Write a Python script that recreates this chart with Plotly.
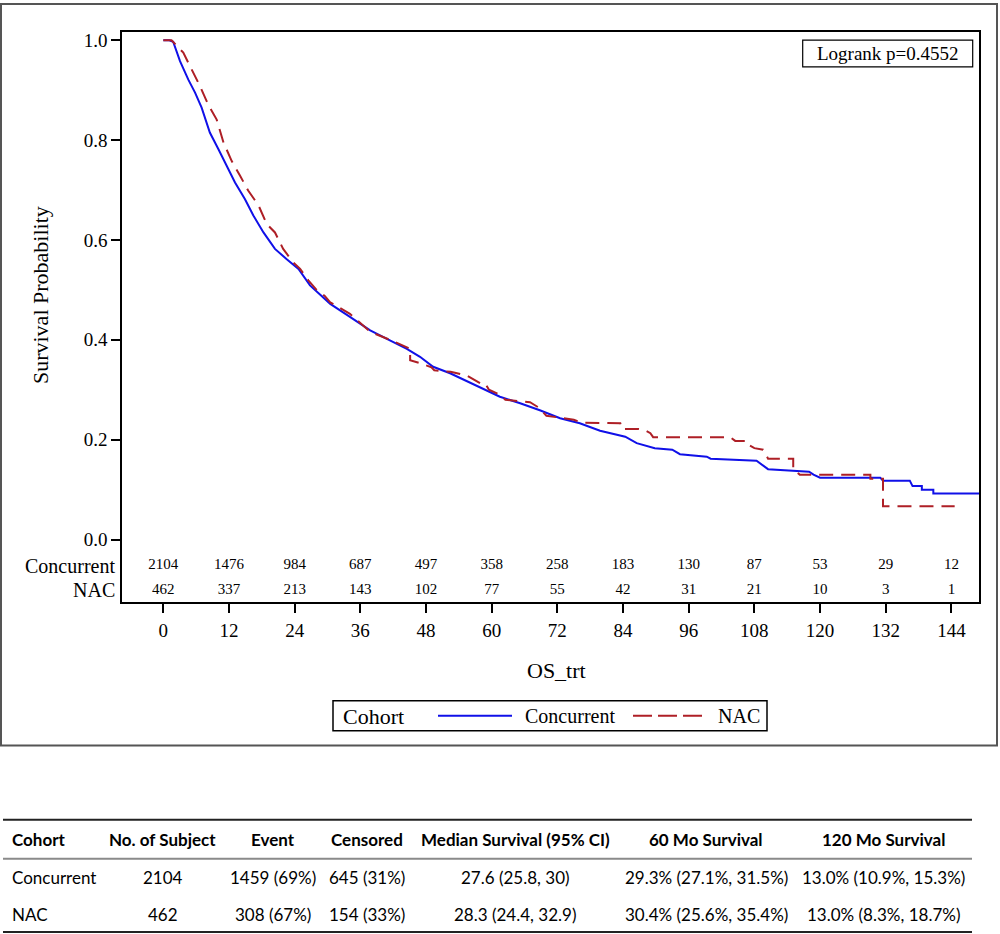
import plotly.graph_objects as go

# ---------------- data ----------------
conc_time = [0, 1.1, 1.8, 3.05, 4.57, 5.8, 7.0, 8.5, 10.05, 11.6, 13.1, 14.9, 16.45, 18.3, 20.4,
             22.5, 24.7, 26.8, 30.5, 34.1, 37.8, 41.4, 44.5, 46.9, 49.3, 52.4, 55.1, 57.9, 61.5,
             65.2, 68.8, 72.5, 76.1, 79.8, 84.4, 86.5, 89.8, 93.0, 94.4, 99.3, 100.0, 108.4,
             110.5, 118.0, 118.8, 120.0, 131.0, 131.5, 136.4, 136.9, 138.6, 138.6, 140.7, 140.7, 149.1]
conc_surv = [1.0, 1.0, 0.997, 0.958, 0.921, 0.895, 0.865, 0.815, 0.782, 0.749, 0.715, 0.682, 0.649,
             0.615, 0.582, 0.562, 0.542, 0.509, 0.472, 0.446, 0.419, 0.399, 0.382, 0.366, 0.346,
             0.333, 0.319, 0.303, 0.286, 0.273, 0.259, 0.243, 0.233, 0.218, 0.206, 0.193, 0.183,
             0.180, 0.171, 0.166, 0.162, 0.158, 0.141, 0.136, 0.130, 0.124, 0.124, 0.118, 0.118,
             0.107, 0.107, 0.0998, 0.0998, 0.092, 0.092]

nac_time = [0, 1.5, 3.65, 5.2, 6.7, 8.2, 9.75, 11.0, 12.5, 14.0, 15.5, 17.4, 18.9, 20.4, 21.9, 23.75,
            25.0, 26.5, 28.0, 29.5, 30.5, 34.1, 37.8, 41.4, 45.1, 45.1, 47.0, 49.0, 49.5, 52.5, 55.5,
            57.9, 58.8, 59.5, 61.5, 62.5, 64.5, 67.0, 68.5, 70.0, 75.0, 76.5, 83.5, 83.8, 86.8, 88.0,
            89.0, 89.5, 103.6, 104.5, 106.6, 106.9, 108.0, 109.6, 110.0, 110.5, 115.1, 115.1, 116.3,
            129.2, 129.2, 131.5, 131.5, 144.6]
nac_surv = [1.0, 1.0, 0.975, 0.941, 0.908, 0.871, 0.841, 0.795, 0.758, 0.729, 0.699, 0.669, 0.632,
            0.615, 0.582, 0.555, 0.542, 0.519, 0.500, 0.488, 0.475, 0.452, 0.416, 0.400, 0.382, 0.359,
            0.353, 0.345, 0.339, 0.336, 0.328, 0.313, 0.313, 0.300, 0.290, 0.280, 0.278, 0.275, 0.265,
            0.248, 0.240, 0.234, 0.233, 0.2215, 0.2215, 0.219, 0.213, 0.205, 0.205, 0.1976, 0.1976,
            0.190, 0.183, 0.180, 0.173, 0.162, 0.162, 0.140, 0.130, 0.130, 0.122, 0.122, 0.0665, 0.0665]

risk_times = [0, 12, 24, 36, 48, 60, 72, 84, 96, 108, 120, 132, 144]
conc_at_risk = [2104, 1476, 984, 687, 497, 358, 258, 183, 130, 87, 53, 29, 12]
nac_at_risk = [462, 337, 213, 143, 102, 77, 55, 42, 31, 21, 10, 3, 1]

y_ticks = [0.0, 0.2, 0.4, 0.6, 0.8, 1.0]
logrank_text = "Logrank p=0.4552"

table_header = ["Cohort", "No. of Subject", "Event", "Censored", "Median Survival (95% CI)",
                "60 Mo Survival", "120 Mo Survival"]
table_row_conc = ["Concurrent", "2104", "1459 (69%)", "645 (31%)", "27.6 (25.8, 30)",
                  "29.3% (27.1%, 31.5%)", "13.0% (10.9%, 15.3%)"]
table_row_nac = ["NAC", "462", "308 (67%)", "154 (33%)", "28.3 (24.4, 32.9)",
                 "30.4% (25.6%, 35.4%)", "13.0% (8.3%, 18.7%)"]

# ---------------- layout helpers ----------------
W, H = 1000, 934
SERIF = "Liberation Serif, Times New Roman, serif"
SANS = "Lato, Noto Sans, sans-serif"
BLUE = "#1010E8"
RED = "#AE1F26"


def px(x):
    return x / W


def py(y):
    return 1 - y / H


fig = go.Figure()

fig.add_trace(go.Scatter(x=conc_time, y=conc_surv, mode="lines", name="Concurrent",
                         line=dict(color=BLUE, width=2), showlegend=False))
fig.add_trace(go.Scatter(x=nac_time, y=nac_surv, mode="lines", name="NAC",
                         line=dict(color=RED, width=2, dash="14px,8px"), showlegend=False))

# numbers at risk
fig.add_trace(go.Scatter(x=risk_times, y=[-0.052] * len(risk_times), mode="text",
                         text=[str(v) for v in conc_at_risk], textposition="middle center",
                         textfont=dict(family=SERIF, size=15, color="black"),
                         showlegend=False, cliponaxis=False, hoverinfo="skip"))
fig.add_trace(go.Scatter(x=risk_times, y=[-0.101] * len(risk_times), mode="text",
                         text=[str(v) for v in nac_at_risk], textposition="middle center",
                         textfont=dict(family=SERIF, size=15, color="black"),
                         showlegend=False, cliponaxis=False, hoverinfo="skip"))

fig.update_layout(
    width=W, height=H, margin=dict(l=0, r=0, t=0, b=0),
    paper_bgcolor="white", plot_bgcolor="white",
    xaxis=dict(domain=[px(122), px(979.3)], range=[-7.55, 149.1],
               tickvals=risk_times, ticktext=[str(t) for t in risk_times],
               ticks="outside", ticklen=9, tickwidth=1.5, tickcolor="black",
               tickfont=dict(family=SERIF, size=19, color="black"),
               showline=True, linecolor="black", linewidth=1.5, mirror=True,
               showgrid=False, zeroline=False, ticklabelstandoff=2),
    yaxis=dict(domain=[py(600.7), py(29.5)], range=[-0.1246, 1.0156],
               tickvals=y_ticks, ticktext=["%.1f" % v for v in y_ticks],
               ticks="outside", ticklen=9, tickwidth=1.5, tickcolor="black",
               tickfont=dict(family=SERIF, size=19, color="black"),
               showline=True, linecolor="black", linewidth=1.5, mirror=True,
               showgrid=False, zeroline=False),
)

shapes = []
annotations = []

# outer border
shapes.append(dict(type="rect", xref="paper", yref="paper", x0=px(1), x1=px(997), y0=py(1), y1=py(745),
                   line=dict(color="#555555", width=2)))

# axis titles
annotations.append(dict(x=px(40), y=py(293), xref="paper", yref="paper", text="Survival Probability",
                        textangle=-90, showarrow=False, font=dict(family=SERIF, size=22, color="black"),
                        xanchor="center", yanchor="middle"))
annotations.append(dict(x=px(556), y=py(670), xref="paper", yref="paper", text="OS_trt",
                        showarrow=False, font=dict(family=SERIF, size=22, color="black"),
                        xanchor="center", yanchor="middle"))

# risk row labels
annotations.append(dict(x=px(117), y=py(564.5), xref="paper", yref="paper", text="Concurrent",
                        showarrow=False, font=dict(family=SERIF, size=20, color="black"),
                        xanchor="right", yanchor="middle"))
annotations.append(dict(x=px(117), y=py(589), xref="paper", yref="paper", text="NAC",
                        showarrow=False, font=dict(family=SERIF, size=20, color="black"),
                        xanchor="right", yanchor="middle"))

# logrank box
shapes.append(dict(type="rect", xref="paper", yref="paper", x0=px(802.7), x1=px(972.7),
                   y0=py(37.3), y1=py(64), line=dict(color="black", width=1.2), fillcolor="white"))
annotations.append(dict(x=px(887.7), y=py(51), xref="paper", yref="paper", text=logrank_text,
                        showarrow=False, font=dict(family=SERIF, size=19, color="black"),
                        xanchor="center", yanchor="middle"))

# legend
shapes.append(dict(type="rect", xref="paper", yref="paper", x0=px(333), x1=px(767),
                   y0=py(700), y1=py(730), line=dict(color="black", width=1.5)))
annotations.append(dict(x=px(341), y=py(716), xref="paper", yref="paper", text="Cohort",
                        showarrow=False, font=dict(family=SERIF, size=22, color="black"),
                        xanchor="left", yanchor="middle"))
shapes.append(dict(type="line", xref="paper", yref="paper", x0=px(438), x1=px(512),
                   y0=py(715), y1=py(715), line=dict(color=BLUE, width=2)))
annotations.append(dict(x=px(523), y=py(715.5), xref="paper", yref="paper", text="Concurrent",
                        showarrow=False, font=dict(family=SERIF, size=20, color="black"),
                        xanchor="left", yanchor="middle"))
shapes.append(dict(type="line", xref="paper", yref="paper", x0=px(633), x1=px(702),
                   y0=py(715), y1=py(715), line=dict(color=RED, width=2, dash="19px,6px")))
annotations.append(dict(x=px(716), y=py(715.5), xref="paper", yref="paper", text="NAC",
                        showarrow=False, font=dict(family=SERIF, size=20, color="black"),
                        xanchor="left", yanchor="middle"))

# summary table
shapes.append(dict(type="line", xref="paper", yref="paper", x0=px(3), x1=px(972),
                   y0=py(819.5), y1=py(819.5), line=dict(color="#222222", width=2)))
shapes.append(dict(type="line", xref="paper", yref="paper", x0=px(3), x1=px(972),
                   y0=py(858.5), y1=py(858.5), line=dict(color="#8a8a8a", width=2)))
shapes.append(dict(type="line", xref="paper", yref="paper", x0=px(3), x1=px(972),
                   y0=py(932), y1=py(932), line=dict(color="#222222", width=2)))

col_x = [10, 162.5, 272.5, 366.5, 515, 706, 883]
row_y = [839, 877, 914]
for r, (row, bold) in enumerate([(table_header, True), (table_row_conc, False), (table_row_nac, False)]):
    for c, txt in enumerate(row):
        annotations.append(dict(
            x=px(col_x[c]), y=py(row_y[r]), xref="paper", yref="paper",
            text=("<b>%s</b>" % txt) if bold else txt, showarrow=False,
            font=dict(family=SANS, size=17, color="black"),
            xanchor="left" if c == 0 else "center", yanchor="middle"))

fig.update_layout(shapes=shapes, annotations=annotations)
fig.write_html(
    "out.html",
    config={"displayModeBar": False},
    post_script="document.body.style.margin='0';document.body.style.padding='0';"
                "document.documentElement.style.overflow='hidden';document.body.style.overflow='hidden';",
)
